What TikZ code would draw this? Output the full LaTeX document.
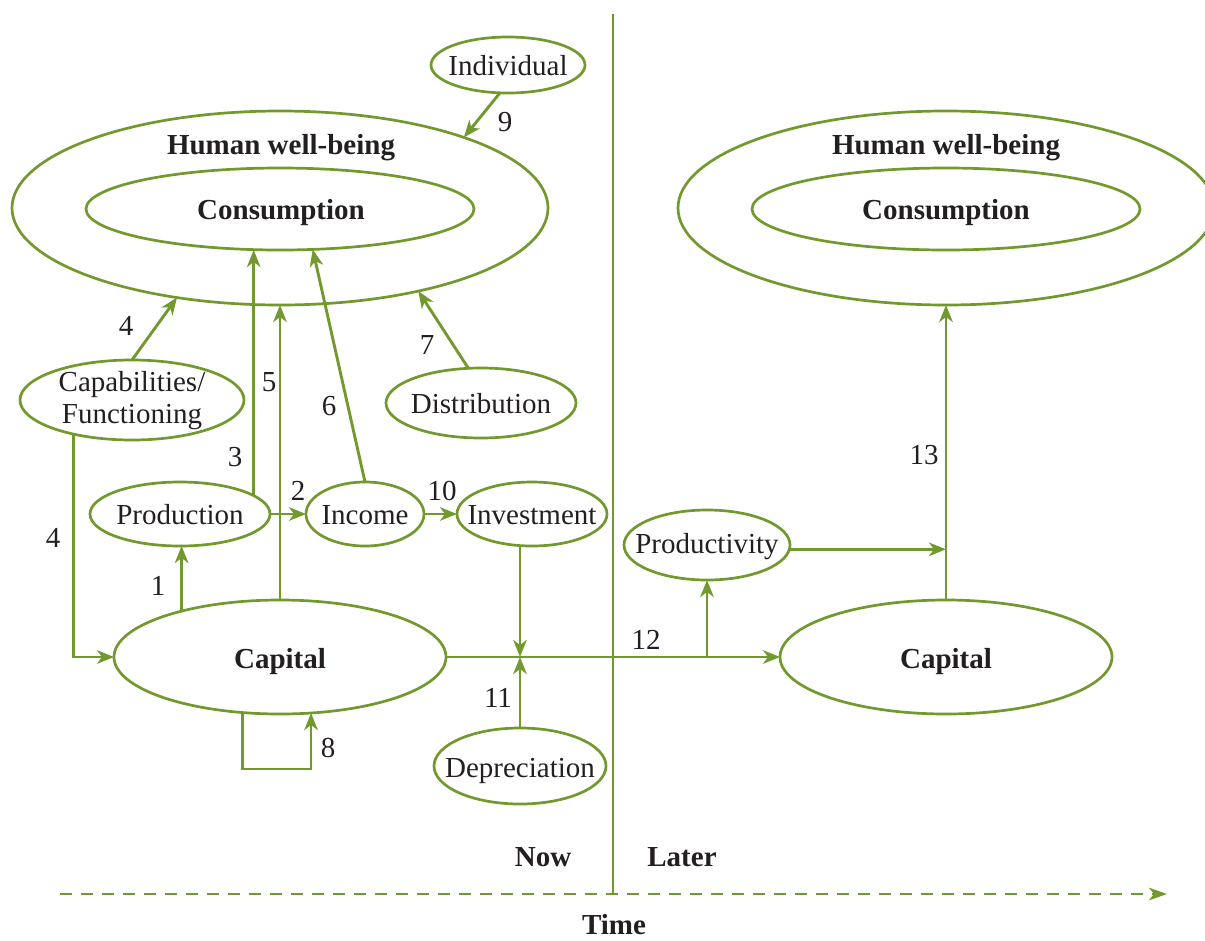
\documentclass[tikz,border=0pt]{standalone}
\usepackage{fontspec}
\setmainfont{Liberation Serif}
\usetikzlibrary{shapes.geometric,arrows.meta,calc}
\definecolor{grn}{RGB}{114,153,46}
\definecolor{txt}{RGB}{35,31,32}
\begin{document}
\begin{tikzpicture}[x=1pt,y=-1pt,
  el/.style={ellipse,draw=grn,line width=2.7pt,inner sep=0pt,outer sep=0pt},
  t/.style={text=txt,inner sep=0pt,anchor=base,font=\fontsize{29}{33}\selectfont},
  tb/.style={text=txt,inner sep=0pt,anchor=base,font=\fontsize{29}{33}\selectfont\bfseries},
  ln/.style={draw=grn,line width=2.9pt},
  arr/.style={ln,-{Stealth[length=17pt,width=13.5pt,inset=5pt]}}]
\useasboundingbox (0,0) rectangle (1205,940);

% ellipses
\node[el,minimum width=536pt,minimum height=194pt] (hwbL) at (280,208) {};
\node[el,minimum width=388pt,minimum height=82pt] (consL) at (280,209) {};
\node[el,minimum width=536pt,minimum height=194pt] (hwbR) at (946,208) {};
\node[el,minimum width=388pt,minimum height=82pt] (consR) at (946,209) {};
\node[el,minimum width=154pt,minimum height=56pt] (ind) at (508,65) {};
\node[el,minimum width=224pt,minimum height=80pt] (capab) at (132,400) {};
\node[el,minimum width=180pt,minimum height=64pt] (prodn) at (180,514) {};
\node[el,minimum width=118pt,minimum height=64pt] (inc) at (365,514) {};
\node[el,minimum width=150pt,minimum height=64pt] (inv) at (532,514) {};
\node[el,minimum width=190pt,minimum height=70pt] (dist) at (481,403) {};
\node[el,minimum width=332pt,minimum height=114pt] (capL) at (280,657) {};
\node[el,minimum width=172pt,minimum height=76pt] (dep) at (520,766) {};
\node[el,minimum width=166pt,minimum height=70pt] (prod2) at (707,545) {};
\node[el,minimum width=332pt,minimum height=114pt] (capR) at (946,657) {};

% texts
\node[tb] (thL) at (281,154) {Human well-being};
\node[tb] (thR) at (946,154) {Human well-being};
\node[tb] (tcL) at (281,219) {Consumption};
\node[tb] (tcR) at (946,219) {Consumption};
\node[t] (tind) at (508,75) {Individual};
\node[t] (tcap1) at (132,391) {Capabilities/};
\node[t] (tcap2) at (132,423) {Functioning};
\node[t] (tprodn) at (180,524) {Production};
\node[t] (tinc) at (365,524) {Income};
\node[t] (tinv) at (532,524) {Investment};
\node[t] (tdist) at (481,413) {Distribution};
\node[tb] (tcapL) at (280,668) {Capital};
\node[tb] (tcapR) at (946,668) {Capital};
\node[t] (tdep) at (520,777) {Depreciation};
\node[t] (tprod2) at (707,553) {Productivity};
\node[tb] (tnow) at (543,866) {Now};
\node[tb] (tlater) at (682,866) {Later};
\node[tb] (ttime) at (614,934) {Time};

% number labels
\node[t] (n9) at (505,131) {9};
\node[t] (n4a) at (126,335) {4};
\node[t] (n3) at (235,466) {3};
\node[t] (n5) at (269,391) {5};
\node[t] (n6) at (329,415) {6};
\node[t] (n7) at (427,354) {7};
\node[t] (n2) at (298,500) {2};
\node[t] (n10) at (442,500) {10};
\node[t] (n1) at (158,595) {1};
\node[t] (n4b) at (53,547) {4};
\node[t] (n11) at (498,707) {11};
\node[t] (n8) at (328,757) {8};
\node[t] (n12) at (646,649) {12};
\node[t] (n13) at (924,464) {13};

% coordinates
\coordinate (j1) at (520,657);
\coordinate (j2) at (707,657);
\coordinate (c8) at (276,769);
\coordinate (dt) at (613,14);
\coordinate (db) at (613,893);
\coordinate (ts) at (60,894);
\coordinate (te) at (1167,894);

% connectors
\draw[arr] (ind.-106) -- (hwbL.21.4);
\draw[arr] (capab.north) -- (hwbL.-139);
\draw[arr] (prodn.14.4) -- (prodn.14.4 |- consL.south);
\draw[arr] (capL.north) -- (hwbL.south);
\draw[arr] (inc.north) -- (consL.-51.6);
\draw[arr] (dist.110.5) -- (hwbL.-31.8);
\draw[arr] (prodn.east) -- (inc.west);
\draw[arr] (inc.east) -- (inv.west);
\draw[arr] (capL.155.5) -- (capL.155.5 |- prodn.south);
\draw[arr] (capab.-150) |- (capL.west);
\draw[arr] (capL.-124.4) |- (c8) -| (capL.-61.9);
\draw[arr] (capL.east) -- (capR.west);
\draw[arr] (j1 |- inv.south) -- (j1);
\draw[arr] (dep.north) -- (j1);
\draw[arr] (j2) -- (prod2.south);
\draw[arr] (prod2.-3) -- (capR.north |- prod2.-3);
\draw[arr] (capR.north) -- (hwbR.south);
\draw[ln,line width=2.6pt] (dt) -- (db);
\draw[ln,-{Stealth[length=18pt,width=12.5pt,inset=5pt]},dash pattern=on 12pt off 9pt] (ts) -- (te);
\end{tikzpicture}
\end{document}
